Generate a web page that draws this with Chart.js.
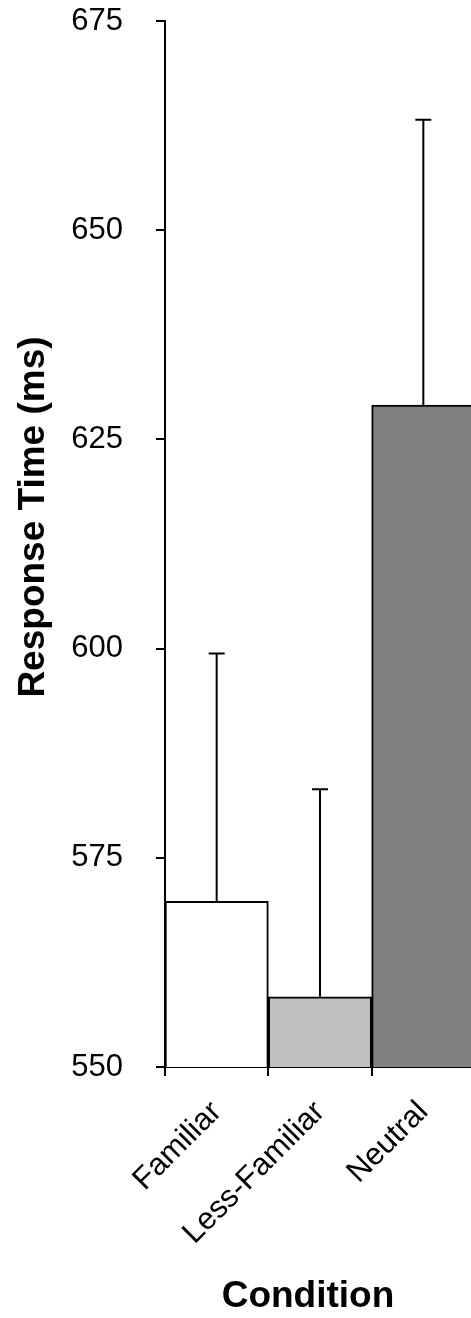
<!DOCTYPE html>
<html>
<head>
<meta charset="utf-8">
<script src="https://cdn.jsdelivr.net/npm/chart.js@4.4.0/dist/chart.umd.min.js"></script>
<style>
  html, body { margin: 0; padding: 0; background: #fff; overflow: hidden; }
  #wrap { width: 471px; height: 1318px; overflow: hidden; }
</style>
</head>
<body>
<div id="wrap"><canvas id="rt" width="480" height="1318"></canvas></div>
<script>
// data
var conditions = ['Familiar', 'Less-Familiar', 'Neutral'];
var meanRT = [569.8, 558.4, 629.1];
var errRT = [29.6, 24.8, 34.1];
var barColors = ['#ffffff', '#c0c0c0', '#808080'];
var yTicks = [550, 575, 600, 625, 650, 675];

var FONT = "'Liberation Sans', Arial, sans-serif";

// error bars, cap on top only
var errorBars = {
  id: 'errorBars',
  afterDatasetsDraw: function(chart) {
    var ctx = chart.ctx;
    var y = chart.scales.y;
    var meta = chart.getDatasetMeta(0);
    ctx.save();
    ctx.strokeStyle = '#000';
    ctx.lineWidth = 2;
    meta.data.forEach(function(bar, i) {
      var top = y.getPixelForValue(meanRT[i] + errRT[i]);
      ctx.beginPath();
      ctx.moveTo(bar.x, bar.y);
      ctx.lineTo(bar.x, top);
      ctx.moveTo(bar.x - 8, top);
      ctx.lineTo(bar.x + 8, top);
      ctx.stroke();
    });
    ctx.restore();
  }
};

// axis titles
var axisTitles = {
  id: 'axisTitles',
  afterDraw: function(chart) {
    var ctx = chart.ctx;
    var a = chart.chartArea;
    ctx.save();
    ctx.fillStyle = '#000';
    ctx.font = 'bold 37px ' + FONT;
    ctx.textAlign = 'center';
    ctx.textBaseline = 'middle';
    ctx.fillText('Condition', (a.left + a.right) / 2 - 12, 1297);
    ctx.translate(34, (a.top + a.bottom) / 2 - 27);
    ctx.rotate(-Math.PI / 2);
    ctx.fillText('Response Time (ms)', 0, 0);
    ctx.restore();
  }
};

var rtChart = new Chart(document.getElementById('rt').getContext('2d'), {
  type: 'bar',
  data: {
    labels: conditions,
    datasets: [{
      data: meanRT,
      backgroundColor: barColors,
      borderColor: '#000',
      borderWidth: 2,
      categoryPercentage: 1,
      barPercentage: 1
    }]
  },
  options: {
    responsive: false,
    animation: false,
    layout: { padding: { top: 0, right: 5, left: 0, bottom: 0 } },
    plugins: { legend: { display: false }, tooltip: { enabled: false } },
    scales: {
      x: {
        offset: true,
        grid: { offset: true, drawOnChartArea: false, color: '#000', lineWidth: 2, tickLength: 9 },
        border: { color: '#000', width: 2 },
        ticks: {
          color: '#000', font: { family: FONT, size: 31 },
          minRotation: 45, maxRotation: 45, autoSkip: false, padding: 18
        },
        afterFit: function(scale) { scale.height = 251; }
      },
      y: {
        min: 550, max: 675,
        afterBuildTicks: function(scale) {
          scale.ticks = yTicks.map(function(v) { return { value: v }; });
        },
        grid: { drawOnChartArea: false, color: '#000', lineWidth: 2, tickLength: 9 },
        border: { color: '#000', width: 2 },
        ticks: { color: '#000', font: { family: FONT, size: 31 }, padding: 33 },
        afterFit: function(scale) {
          scale.width = 165;
          scale.paddingTop = 21;
        }
      }
    }
  },
  plugins: [errorBars, axisTitles]
});
</script>
</body>
</html>
